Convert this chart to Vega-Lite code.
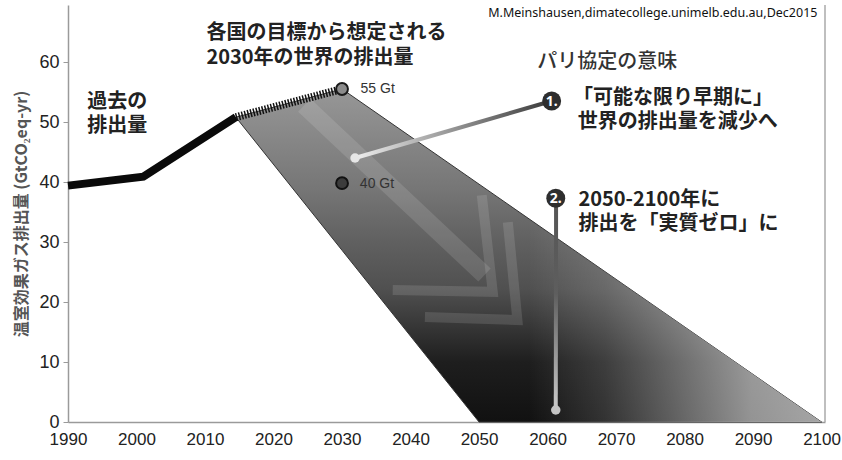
{
  "$schema": "https://vega.github.io/schema/vega-lite/v6.json",
  "width": 757,
  "height": 417,
  "autosize": {"type": "none"},
  "padding": {"left": 68, "top": 5, "right": 17, "bottom": 38},
  "background": "white",
  "config": {"view": {"stroke": null}},
  "encoding": {
    "x": {
      "field": "year", "type": "quantitative",
      "scale": {"domain": [1990, 2100.5], "nice": false, "zero": false},
      "axis": {
        "values": [1990, 2000, 2010, 2020, 2030, 2040, 2050, 2060, 2070, 2080, 2090, 2100],
        "format": "d", "title": null, "ticks": false, "grid": false,
        "domainColor": "#9a9a9a", "domainWidth": 1.5,
        "labelFont": "Liberation Sans",
        "labelFontSize": 17, "labelColor": "#222", "labelPadding": 9,
        "labelFlush": false, "labelOverlap": false
      }
    },
    "y": {
      "field": "v", "type": "quantitative",
      "scale": {"domain": [0, 69.5], "nice": false},
      "axis": {
        "values": [0, 10, 20, 30, 40, 50, 60],
        "title": "温室効果ガス排出量 (GtCO₂eq-yr)",
        "grid": false, "domainColor": "#9a9a9a", "domainWidth": 1.5,
        "tickColor": "#9a9a9a", "tickSize": 5,
        "labelFont": "Liberation Sans",
        "labelFontSize": 18, "labelColor": "#222", "labelPadding": 4,
        "titleFont": "Noto Sans CJK JP", "titleFontSize": 16, "titleFontWeight": "bold",
        "titleColor": "#555", "titlePadding": 9
      }
    }
  },
  "layer": [
    {
      "data": {"values": [
        {"year": 2014.5, "v": 50.8, "v2": 50.8},
        {"year": 2030, "v": 55.5, "v2": 28.62},
        {"year": 2050, "v": 39.64, "v2": 0},
        {"year": 2100, "v": 0, "v2": 0}
      ]},
      "mark": {
        "type": "area",
        "fill": {
          "gradient": "linear", "x1": 0, "y1": 0, "x2": 0, "y2": 1,
          "stops": [
            {"offset": 0, "color": "#979797"},
            {"offset": 0.3, "color": "#767676"},
            {"offset": 0.46, "color": "#606060"},
            {"offset": 0.6, "color": "#505050"},
            {"offset": 0.82, "color": "#1e1e1e"},
            {"offset": 1, "color": "#111111"}
          ]
        },
        "stroke": "#333333", "strokeWidth": 1
      },
      "encoding": {"y2": {"field": "v2"}}
    },
    {
      "data": {"values": [
        {"year": 2014.5, "v": 50.8, "v2": 50.8},
        {"year": 2030, "v": 55.5, "v2": 28.62},
        {"year": 2050, "v": 39.64, "v2": 0},
        {"year": 2100, "v": 0, "v2": 0}
      ]},
      "mark": {
        "type": "area",
        "fill": {
          "gradient": "linear", "x1": 0, "y1": 0, "x2": 1, "y2": 0,
          "stops": [
            {"offset": 0, "color": "rgba(255,255,255,0)"},
            {"offset": 0.5, "color": "rgba(255,255,255,0)"},
            {"offset": 0.63, "color": "rgba(255,255,255,0.14)"},
            {"offset": 0.88, "color": "rgba(255,255,255,0.55)"},
            {"offset": 1, "color": "rgba(255,255,255,0.62)"}
          ]
        }
      },
      "encoding": {"y2": {"field": "v2"}}
    },
    {
      "data": {"values": [
        {"year": 2024.5, "v": 52.8},
        {"year": 2050.8, "v": 24.5}
      ]},
      "mark": {"type": "line", "stroke": "white", "strokeOpacity": 0.12, "strokeWidth": 18, "strokeCap": "butt"},
      "encoding": {}
    },
    {
      "data": {"values": [
        {"id": "A", "o": 1, "year": 2050.4, "v": 37.8},
        {"id": "A", "o": 2, "year": 2052.0, "v": 21.7},
        {"id": "A", "o": 3, "year": 2037.4, "v": 22.0},
        {"id": "B", "o": 1, "year": 2054.2, "v": 33.3},
        {"id": "B", "o": 2, "year": 2055.6, "v": 17.0},
        {"id": "B", "o": 3, "year": 2042.1, "v": 17.5}
      ]},
      "mark": {"type": "line", "stroke": "white", "strokeOpacity": 0.12, "strokeWidth": 10, "strokeJoin": "miter", "strokeCap": "butt"},
      "encoding": {"detail": {"field": "id"}, "order": {"field": "o"}}
    },
    {
      "data": {"values": [
        {"year": 1990, "v": 39.4},
        {"year": 2001, "v": 40.9},
        {"year": 2014.5, "v": 50.8}
      ]},
      "mark": {"type": "line", "color": "#0a0a0a", "strokeWidth": 8, "strokeCap": "butt"},
      "encoding": {}
    },
    {
      "data": {"values": [
        {"year": 2014.5, "v": 50.8},
        {"year": 2030, "v": 55.5}
      ]},
      "mark": {"type": "line", "color": "#111", "strokeWidth": 8, "strokeDash": [1.5, 1.5], "strokeCap": "butt"},
      "encoding": {}
    },
    {
      "data": {"values": [{"year": 2030, "v": 55.5}]},
      "mark": {"type": "point", "filled": true, "fill": "#8c8c8c", "stroke": "#1a1a1a", "strokeWidth": 2, "size": 140, "opacity": 1},
      "encoding": {}
    },
    {
      "data": {"values": [{"year": 2030, "v": 39.8}]},
      "mark": {"type": "point", "filled": true, "fill": "#3c3c3c", "stroke": "#111", "strokeWidth": 2, "size": 140, "opacity": 1},
      "encoding": {}
    },
    {
      "data": {"values": [
        {"year": 2032.7, "v": 55.5, "t": "55 Gt"},
        {"year": 2032.6, "v": 39.7, "t": "40 Gt"}
      ]},
      "mark": {"type": "text", "align": "left", "baseline": "middle", "font": "Liberation Sans", "fontSize": 14, "color": "#333"},
      "encoding": {"text": {"field": "t"}}
    },
    {
      "data": {"values": [
        {"year": 2031.9, "v": 44.0},
        {"year": 2060.6, "v": 53.5}
      ]},
      "mark": {
        "type": "line", "strokeWidth": 4,
        "stroke": {"gradient": "linear", "x1": 0, "y1": 0, "x2": 1, "y2": 0,
          "stops": [{"offset": 0, "color": "#eeeeee"}, {"offset": 1, "color": "#3a3a3a"}]}
      },
      "encoding": {}
    },
    {
      "data": {"values": [
        {"year": 2061.2, "v": 2},
        {"year": 2061.25, "v": 37.3}
      ]},
      "mark": {
        "type": "line", "strokeWidth": 4,
        "stroke": {"gradient": "linear", "x1": 0, "y1": 0, "x2": 0, "y2": 1,
          "stops": [{"offset": 0, "color": "#555555"}, {"offset": 0.45, "color": "#5e5e5e"}, {"offset": 1, "color": "#cccccc"}]}
      },
      "encoding": {}
    },
    {
      "data": {"values": [{"year": 2031.9, "v": 44.0}]},
      "mark": {"type": "point", "filled": true, "fill": "#e6e6e6", "size": 90, "opacity": 1},
      "encoding": {}
    },
    {
      "data": {"values": [{"year": 2061.2, "v": 2}]},
      "mark": {"type": "point", "filled": true, "fill": "#c4c4c4", "size": 90, "opacity": 1},
      "encoding": {}
    },
    {
      "data": {"values": [
        {"year": 2060.6, "v": 53.5, "t": "1."},
        {"year": 2061.2, "v": 37.3, "t": "2."}
      ]},
      "mark": {"type": "point", "filled": true, "fill": "#2e2e2e", "size": 360, "opacity": 1},
      "encoding": {}
    },
    {
      "data": {"values": [
        {"year": 2060.6, "v": 53.5, "t": "1."},
        {"year": 2061.2, "v": 37.3, "t": "2."}
      ]},
      "mark": {"type": "text", "align": "center", "baseline": "middle", "font": "Noto Sans", "fontWeight": "bold", "fontSize": 14, "color": "white", "dy": 1},
      "encoding": {"text": {"field": "t"}}
    },
    {
      "data": {"values": [
        {"year": 2010.2, "v": 64.8, "t": "各国の目標から想定される"},
        {"year": 2010.2, "v": 60.7, "t": "2030年の世界の排出量"},
        {"year": 1992.8, "v": 53.3, "t": "過去の"},
        {"year": 1992.8, "v": 49.3, "t": "排出量"},
        {"year": 2063.7, "v": 54.0, "t": "「可能な限り早期に」"},
        {"year": 2064.4, "v": 50.0, "t": "世界の排出量を減少へ"},
        {"year": 2064.5, "v": 37.0, "t": "2050-2100年に"},
        {"year": 2064.5, "v": 33.0, "t": "排出を「実質ゼロ」に"}
      ]},
      "mark": {"type": "text", "align": "left", "baseline": "middle", "font": "Noto Sans CJK JP", "fontWeight": "bold", "fontSize": 20, "color": "#222"},
      "encoding": {"text": {"field": "t"}}
    },
    {
      "data": {"values": [{"year": 2058.5, "v": 60.0, "t": "パリ協定の意味"}]},
      "mark": {"type": "text", "align": "left", "baseline": "middle", "font": "Noto Sans CJK JP", "fontWeight": 500, "fontSize": 20, "color": "#333"},
      "encoding": {"text": {"field": "t"}}
    },
    {
      "data": {"values": [{"year": 2099.4, "v": 68.2, "t": "M.Meinshausen,dimatecollege.unimelb.edu.au,Dec2015"}]},
      "mark": {"type": "text", "align": "right", "baseline": "middle", "font": "Noto Sans", "fontSize": 12.5, "color": "#111"},
      "encoding": {"text": {"field": "t"}}
    },
    {
      "data": {"values": [{"year": 2100.5, "v": 0, "v2": 69.5}]},
      "mark": {"type": "rule", "color": "#aaaaaa", "strokeWidth": 1.5},
      "encoding": {"y2": {"field": "v2"}}
    }
  ]
}
